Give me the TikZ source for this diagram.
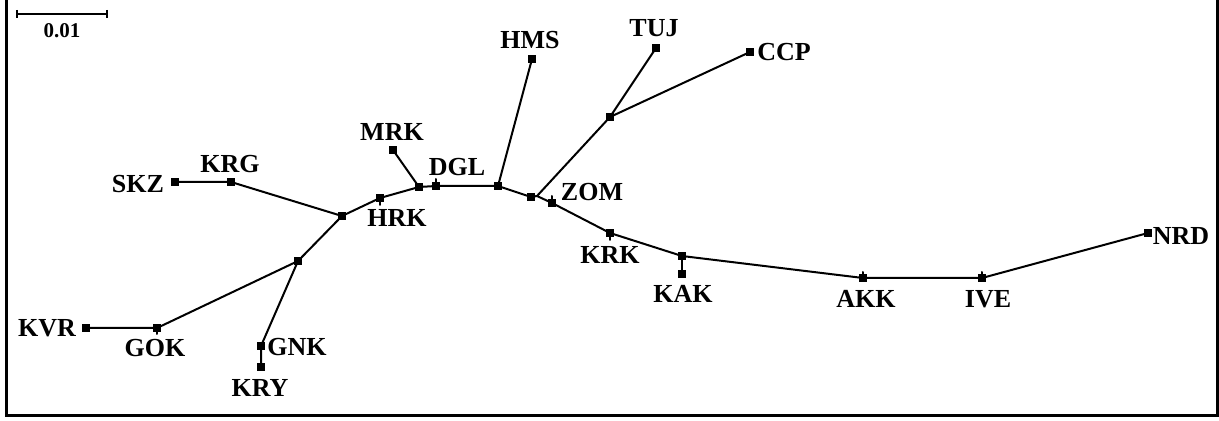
\documentclass[tikz,border=0pt]{standalone}
\usepackage{fontspec}
\setmainfont{Liberation Serif}
\tikzset{
  branch/.style={line width=1pt, line cap=round, line join=round},
  tip/.style={rectangle, fill=black, inner sep=0pt, minimum size=3.6pt},
  lab/.style={font=\fontsize{13}{14}\selectfont\bfseries, inner sep=0pt},
  barlab/.style={font=\fontsize{10.5}{11}\selectfont\bfseries, inner sep=0pt},
  frame/.style={line width=1.75pt, line join=miter}
}
\begin{document}
\begin{tikzpicture}[x=0.5pt, y=-0.5pt]
\useasboundingbox (0,0) rectangle (1219,421);

% surrounding frame (open at the top)
\draw[frame] (6.5,0) -- (6.5,415.5) -- (1217.3,415.5) -- (1217.3,0);

% scale bar
\coordinate (sbl) at (17,14);
\coordinate (sbr) at (107,14);
\draw[line width=1pt] (sbl) -- (sbr);
\draw[line width=1pt] ([yshift=2pt]sbl) -- ([yshift=-2pt]sbl);
\draw[line width=1pt] ([yshift=2pt]sbr) -- ([yshift=-2pt]sbr);
\node[barlab] (sblab) at (62,31) {0.01};

% tree vertices: tips and inner nodes
\coordinate (skz) at (175,182);
\coordinate (krg) at (231,182);
\coordinate (nA)  at (342,216);
\coordinate (nB)  at (298,261);
\coordinate (kvr) at (86,328);
\coordinate (gok) at (157,328);
\coordinate (gnk) at (261,346);
\coordinate (kry) at (261,367);
\coordinate (hrk) at (380,198);
\coordinate (nC)  at (419,187);
\coordinate (mrk) at (393,150);
\coordinate (dgl) at (436,186);
\coordinate (nD)  at (498,186);
\coordinate (hms) at (532,59);
\coordinate (nE)  at (531,197);
\coordinate (nF)  at (537,196);
\coordinate (nG)  at (610,117);
\coordinate (tuj) at (656,48);
\coordinate (ccp) at (750,52);
\coordinate (zom) at (552,203);
\coordinate (krk) at (610,233);
\coordinate (nH)  at (682,256);
\coordinate (kak) at (682,274);
\coordinate (akk) at (863,278);
\coordinate (ive) at (982,278);
\coordinate (nrd) at (1148,233);

% branches
\draw[branch] (skz) -- (krg) -- (nA) -- (nB) -- (gok) -- (kvr);
\draw[branch] (nB) -- (gnk) -- (kry);
\draw[branch] (nA) -- (hrk) -- (nC) -- (dgl) -- (nD) -- (nE) -- (nF) -- (nG) -- (tuj);
\draw[branch] (nC) -- (mrk);
\draw[branch] (nD) -- (hms);
\draw[branch] (nG) -- (ccp);
\draw[branch] (nF) -- (zom) -- (krk) -- (nH) -- (akk) -- (ive) -- (nrd);
\draw[branch] (nH) -- (kak);

% short stubs of tips lying on the path
\draw[branch] (hrk) -- ++(0,7);
\draw[branch] (dgl) -- ++(0,-7);
\draw[branch] (zom) -- ++(0,-7);
\draw[branch] (krk) -- ++(0,7);
\draw[branch] (akk) -- ++(0,-6);
\draw[branch] (ive) -- ++(0,-6);
\draw[branch] (gok) -- ++(0,6);

% vertex marks
\foreach \v in {skz,krg,nA,nB,kvr,gok,gnk,kry,hrk,nC,mrk,dgl,nD,hms,nE,nG,tuj,ccp,zom,krk,nH,kak,akk,ive,nrd}
  \node[tip] (\v-mark) at (\v) {};

% tip labels
\node[lab] (skzlab) at (138,184) {SKZ};
\node[lab] (krglab) at (230,164) {KRG};
\node[lab] (kvrlab) at (47,328) {KVR};
\node[lab] (goklab) at (155,348) {GOK};
\node[lab] (gnklab) at (297,347) {GNK};
\node[lab] (krylab) at (260,388) {KRY};
\node[lab] (hrklab) at (397,218) {HRK};
\node[lab] (mrklab) at (392,132) {MRK};
\node[lab] (dgllab) at (457,167) {DGL};
\node[lab] (hmslab) at (530,40) {HMS};
\node[lab] (tujlab) at (654,28) {TUJ};
\node[lab] (ccplab) at (784,52) {CCP};
\node[lab] (zomlab) at (592,192) {ZOM};
\node[lab] (krklab) at (610,255) {KRK};
\node[lab] (kaklab) at (683,294) {KAK};
\node[lab] (akklab) at (866,299) {AKK};
\node[lab] (ivelab) at (988,299) {IVE};
\node[lab] (nrdlab) at (1181,236) {NRD};
\end{tikzpicture}
\end{document}
